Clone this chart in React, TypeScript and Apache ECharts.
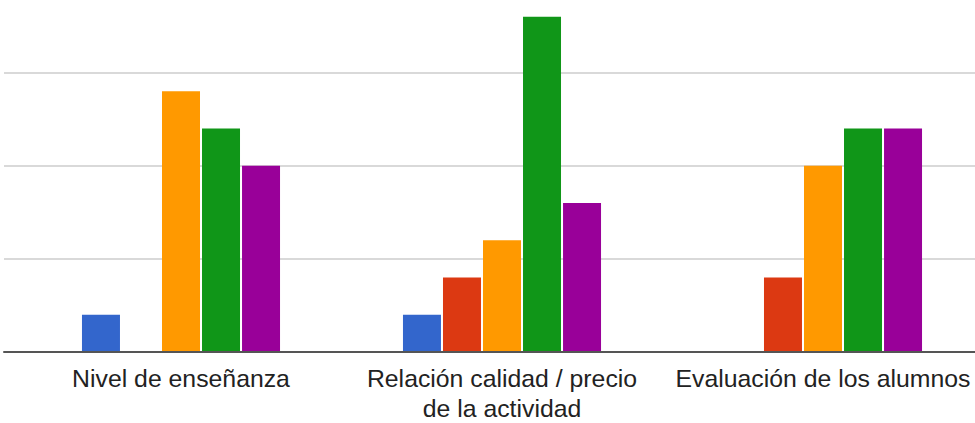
import React, { useEffect, useRef } from "react";
import * as echarts from "echarts";

const categories = [
  "Nivel de enseñanza",
  "Relación calidad / precio\nde la actividad",
  "Evaluación de los alumnos",
];
const seriesNames = ["1", "2", "3", "4", "5"];
const seriesColors = ["#3366cc", "#dc3912", "#ff9900", "#109618", "#990099"];
const values1 = [1, 1, 0];
const values2 = [0, 2, 2];
const values3 = [7, 3, 5];
const values4 = [6, 9, 6];
const values5 = [5, 4, 6];
const allValues = [values1, values2, values3, values4, values5];

export default function App() {
  const ref = useRef<HTMLDivElement>(null);
  useEffect(() => {
    if (!ref.current) return;
    const chart = echarts.init(ref.current, null, { renderer: "svg" });
    const top = -20.4;
    const bottom = 71;
    chart.setOption({
      animation: false,
      backgroundColor: "#ffffff",
      grid: [
        { left: 4, right: 0, top, bottom, outerBoundsMode: "none", containLabel: false },
        { left: 20.5, right: -8.5, top, bottom, outerBoundsMode: "none", containLabel: false },
      ],
      xAxis: [
        {
          type: "value",
          gridIndex: 0,
          min: 0,
          max: 1,
          axisLabel: { show: false },
          axisTick: { show: false },
          splitLine: { show: false },
          axisLine: { show: true, lineStyle: { color: "#555555", width: 2 } },
          z: 5,
        },
        {
          type: "category",
          gridIndex: 1,
          data: categories,
          axisLine: { show: false },
          axisTick: { show: false },
          axisLabel: {
            color: "#222222",
            fontFamily: "Liberation Sans, Arial, sans-serif",
            fontSize: 24.8,
            lineHeight: 30,
            margin: 11,
            interval: 0,
          },
        },
      ],
      yAxis: [
        {
          type: "value",
          gridIndex: 0,
          min: 0,
          max: 10,
          interval: 2.5,
          axisLabel: { show: false },
          axisTick: { show: false },
          axisLine: { show: false },
          splitLine: { show: true, lineStyle: { color: "#cccccc", width: 1.5 } },
        },
        {
          type: "value",
          gridIndex: 1,
          min: 0,
          max: 10,
          show: false,
          splitLine: { show: false },
        },
      ],
      series: allValues.map((vals, i) => ({
        type: "bar",
        name: seriesNames[i],
        xAxisIndex: 1,
        yAxisIndex: 1,
        data: vals,
        barWidth: 38,
        barGap: "5.3%",
        itemStyle: { color: seriesColors[i] },
        z: 3,
      })),
    });
    return () => chart.dispose();
  }, []);
  return (
    <div
      ref={ref}
      style={{ position: "absolute", left: 0, top: 0, width: 975, height: 423 }}
    />
  );
}
